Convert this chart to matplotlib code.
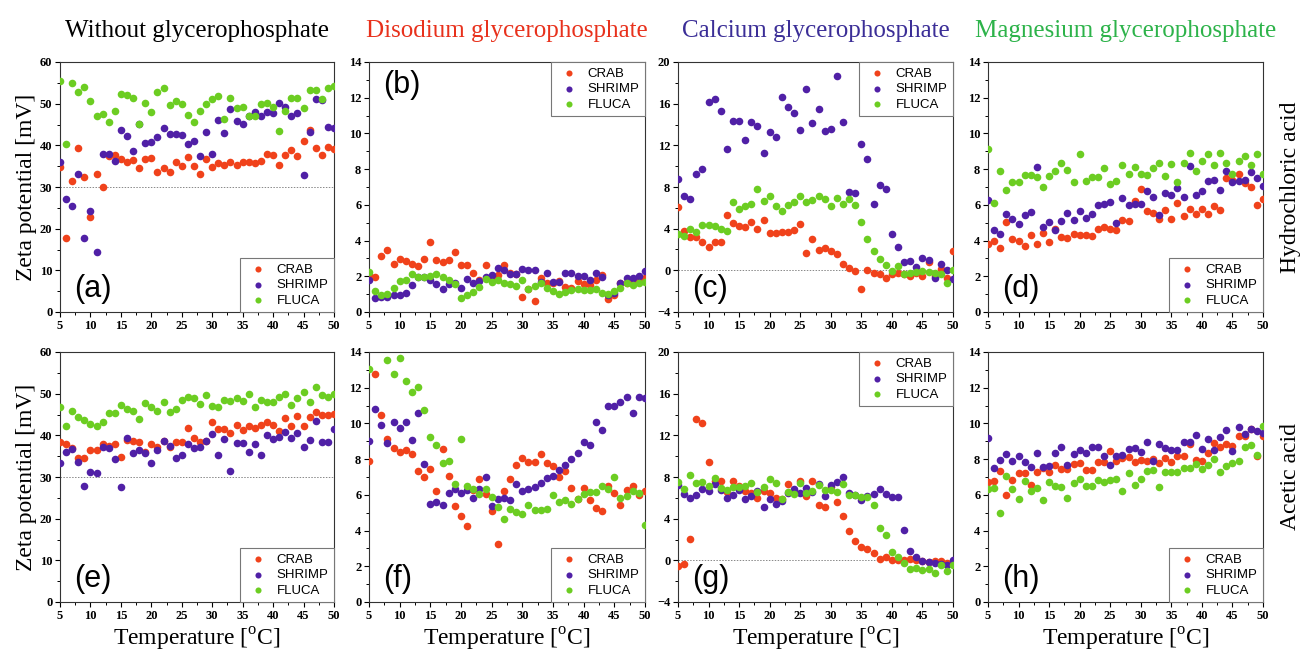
import numpy as np
import matplotlib
matplotlib.use("Agg")
import matplotlib.pyplot as plt
from matplotlib.ticker import MultipleLocator

plt.rcParams["mathtext.fontset"] = "custom"
plt.rcParams["mathtext.rm"] = "Liberation Serif"

nan = np.nan
temperature = np.arange(5, 51)

# (a) HCl, without glycerophosphate
a_crab = [34.8, 17.8, 31.4, 39.4, 32.3, 22.8, 33.2, 30.1, 37.5, 37.8, 36.7, 36.0, 36.5, 34.5, 36.7, 37.0,
          33.5, 34.6, 33.5, 36.1, 35.0, 37.1, 35.0, 33.1, 36.8, 34.8, 35.7, 35.4, 35.9, 35.4, 36.0, 36.0,
          35.7, 36.3, 38.0, 37.6, 35.4, 37.8, 39.0, 37.4, 41.1, 43.6, 39.3, 37.8, 39.5, 39.2]
a_shrimp = [35.9, 27.2, 25.4, 33.2, 17.8, 24.2, 14.5, 38.0, 37.9, 36.2, 43.8, 42.3, 38.7, 45.1, 40.6, 40.9,
            42.1, 44.1, 42.8, 42.8, 42.5, 40.3, 41.0, 37.4, 43.1, 38.0, 46.1, 43.0, 48.6, 45.8, 45.1, 47.1,
            48.1, 47.0, 48.0, 47.8, 50.2, 49.2, 47.1, 47.8, 33.0, 43.2, 51.2, 50.8, 44.4, 44.2]
a_fluca = [55.4, 40.4, 55.0, 52.8, 54.1, 50.7, 47.1, 47.6, 45.6, 48.3, 52.2, 52.0, 51.4, 45.1, 50.1, 48.1,
           52.7, 53.8, 49.8, 50.7, 50.0, 47.4, 45.7, 48.2, 49.9, 51.0, 51.8, 46.4, 51.3, 49.0, 49.2, 47.0,
           47.1, 50.0, 50.1, 49.2, 43.4, 48.2, 51.3, 51.3, 49.0, 53.4, 53.2, 51.2, 53.8, 54.2]

# (b) HCl, disodium glycerophosphate
b_crab = [2.1, 1.96, 3.15, 3.47, 2.67, 2.97, 2.86, 2.67, 2.56, 2.97, 3.94, 2.91, 2.80, 2.91, 3.36, 2.63,
          2.65, 2.20, 1.79, 2.61, 1.90, 2.05, 2.61, 2.18, 2.13, 0.86, 1.30, 0.60, 1.90, 1.62, 1.60, 1.72,
          1.38, 1.34, 1.72, 1.57, 1.53, 1.79, 2.07, 0.73, 0.93, 1.60, 1.60, 1.70, 1.90, 1.90]
b_shrimp = [1.79, 0.77, 0.82, 0.82, 0.97, 0.93, 1.05, 1.53, 1.95, 1.95, 1.77, 1.55, 1.27, 1.59, 1.62, 1.34,
            1.83, 1.60, 1.75, 1.94, 2.05, 2.46, 2.35, 2.15, 2.15, 2.41, 2.33, 2.35, 1.70, 2.20, 1.70, 1.70,
            2.20, 2.20, 2.00, 2.00, 1.80, 2.20, 1.95, 0.96, 1.05, 1.62, 1.88, 1.90, 2.00, 2.30]
b_fluca = [2.24, 1.16, 0.93, 1.00, 1.33, 1.72, 1.79, 2.13, 1.96, 1.96, 2.02, 2.15, 1.94, 1.81, 1.57, 0.77,
           0.97, 1.10, 1.40, 1.87, 1.68, 1.77, 1.62, 1.59, 1.47, 1.81, 1.29, 1.46, 1.64, 1.34, 1.20, 1.03,
           1.12, 1.23, 1.29, 1.25, 1.21, 1.30, 1.08, 1.00, 1.20, 1.33, 1.65, 1.50, 1.60, 1.70]

# (c) HCl, calcium glycerophosphate
c_crab = [6.08, 3.81, 3.17, 3.17, 2.72, 2.27, 2.75, 2.72, 5.31, 4.54, 4.29, 4.19, 4.61, 3.94, 4.83, 3.58,
          3.62, 3.68, 3.71, 3.90, 4.45, 1.66, 3.04, 1.98, 2.14, 1.86, 1.57, 0.61, 0.19, -0.10, -1.76, 0.0,
          -0.22, -0.35, -0.70, -0.32, -0.26, -0.32, -0.51, -0.29, -0.54, 0.77, -0.51, 0.10, -0.77, 1.82]
c_shrimp = [8.80, 7.14, 6.82, 9.25, 9.70, 16.16, 16.48, 15.26, 11.65, 14.37, 14.37, 12.54, 14.27, 13.89,
            11.26, 13.28, 12.77, 16.67, 15.68, 15.07, 13.47, 17.38, 14.18, 15.46, 13.34, 13.54, 18.69, 14.24,
            7.55, 7.39, 12.16, 10.69, 6.40, 8.22, 7.78, 3.49, 2.21, 0.80, 0.90, 0.35, 1.15, 0.99, -0.70,
            0.58, 0.0, -0.83]
c_fluca = [3.52, 3.26, 4.00, 3.71, 4.35, 4.35, 4.22, 3.94, 3.81, 6.59, 5.86, 6.18, 6.37, 7.78, 6.69, 7.14,
           6.18, 5.66, 6.27, 6.56, 7.10, 6.53, 6.72, 7.10, 6.85, 6.21, 6.94, 6.40, 6.85, 6.30, 4.64, 3.01,
           1.89, 1.12, 0.51, -0.10, 0.45, -0.32, -0.22, -0.13, -0.10, -0.19, -0.26, -0.32, -1.25, 0.0]

# (d) HCl, magnesium glycerophosphate
d_crab = [3.81, 3.99, 3.58, 5.04, 4.11, 3.99, 3.70, 4.33, 3.81, 4.42, 3.92, 4.65, 4.20, 4.16, 4.37, 4.29,
          4.33, 4.24, 4.63, 4.74, 4.65, 4.57, 5.13, 5.08, 6.20, 6.89, 5.66, 5.53, 5.23, 5.73, 5.23, 6.10,
          5.36, 5.77, 5.49, 5.79, 5.47, 5.94, 5.71, 7.50, 7.40, 7.75, 7.24, 7.00, 6.01, 6.35]
d_shrimp = [6.29, 4.61, 4.39, 5.49, 5.23, 4.93, 5.41, 5.60, 8.12, 4.74, 5.02, 4.61, 5.08, 5.53, 5.17, 5.67,
            5.28, 5.49, 5.97, 6.05, 6.16, 4.98, 6.38, 5.97, 6.03, 6.07, 6.76, 6.42, 5.45, 6.65, 6.53, 6.96,
            6.42, 8.19, 6.53, 6.76, 7.32, 7.39, 6.83, 7.88, 7.30, 7.32, 7.37, 7.84, 7.52, 7.04]
d_fluca = [9.15, 6.10, 7.90, 6.85, 7.30, 7.26, 7.69, 7.65, 7.56, 7.02, 7.62, 7.90, 8.34, 7.95, 7.26, 8.85,
           7.36, 7.58, 7.58, 8.06, 7.19, 7.36, 8.25, 7.73, 8.12, 7.75, 7.65, 8.05, 8.33, 7.62, 8.27, 7.28,
           8.36, 8.89, 7.90, 8.44, 8.85, 8.23, 8.92, 8.33, 7.71, 8.44, 8.74, 8.21, 8.85, 7.73]

# (e) acetic acid, without glycerophosphate
e_crab = [38.5, 37.9, 37.0, 34.6, 34.6, 36.6, 36.6, 38.0, 37.4, 38.0, 34.9, 39.0, 38.6, 38.3, 35.9, 38.0,
          37.2, 38.6, 37.2, 38.3, 38.3, 41.7, 39.3, 38.5, 38.7, 43.1, 41.6, 41.6, 40.5, 42.4, 41.2, 42.3,
          41.7, 42.4, 43.3, 42.5, 41.1, 44.1, 42.3, 44.7, 42.3, 44.3, 45.6, 44.8, 45.0, 45.1]
e_shrimp = [33.4, 36.0, 36.7, 33.7, 27.9, 31.3, 30.9, 37.1, 36.9, 34.3, 27.7, 39.4, 35.7, 36.6, 35.8, 33.3,
            36.4, 38.6, 37.5, 34.6, 35.2, 38.0, 37.0, 37.1, 38.7, 40.3, 35.4, 39.1, 31.4, 38.1, 38.2, 35.9,
            37.9, 35.4, 40.2, 39.1, 39.6, 40.7, 39.3, 40.6, 37.1, 38.8, 43.5, 38.5, 38.3, 41.5]
e_fluca = [46.8, 42.3, 45.9, 44.3, 43.7, 42.7, 42.3, 43.1, 45.3, 45.3, 47.3, 46.4, 45.9, 44.0, 47.7, 46.8,
           45.9, 48.0, 45.5, 46.3, 48.4, 49.1, 48.9, 47.6, 49.7, 47.0, 46.9, 48.6, 48.2, 48.9, 48.2, 49.9,
           46.8, 48.5, 48.0, 48.0, 49.2, 50.0, 47.2, 48.9, 50.5, 48.0, 51.6, 49.7, 49.1, 49.9]

# (f) acetic acid, disodium glycerophosphate
f_crab = [7.91, 12.79, 10.47, 9.13, 8.62, 8.38, 8.51, 8.31, 7.35, 6.98, 7.45, 6.22, 8.57, 7.04, 5.38, 4.83,
          4.27, 6.30, 6.89, 6.05, 5.10, 3.27, 6.23, 6.87, 7.67, 8.05, 7.84, 7.86, 8.29, 7.78, 7.62, 7.02,
          7.35, 6.37, 5.79, 6.40, 5.69, 5.26, 5.08, 6.48, 6.12, 5.45, 6.25, 6.50, 6.00, 6.20]
f_shrimp = [9.00, 10.79, 9.93, 8.90, 10.10, 9.73, 10.08, 9.09, 10.58, 7.73, 5.51, 5.60, 5.43, 6.12, 6.35,
            6.09, 6.29, 5.82, 6.33, 6.98, 5.36, 5.79, 5.84, 5.69, 6.59, 6.23, 6.35, 6.44, 6.66, 6.94, 7.04,
            7.39, 7.67, 7.99, 8.34, 8.96, 8.79, 10.10, 9.61, 10.98, 10.98, 11.18, 11.48, 10.60, 11.50, 11.40]
f_fluca = [13.07, nan, nan, 13.57, 12.77, 13.66, 12.38, 11.78, 12.06, 10.77, 9.26, 8.81, 7.77, 7.90, 6.63,
           9.13, 6.51, 6.33, 6.05, 6.31, 5.88, 5.30, 4.63, 5.21, 5.02, 4.95, 5.41, 5.13, 5.13, 5.23, 5.97,
           5.58, 5.71, 5.49, 5.75, 6.05, 6.14, 6.18, 6.51, 6.35, 7.02, 5.81, 5.95, 6.20, 6.10, 4.30]

# (g) acetic acid, calcium glycerophosphate
g_crab = [-0.54, -0.32, 2.05, 13.60, 13.18, 9.41, 7.60, 7.65, 6.60, 7.65, 7.17, 6.62, 6.50, 5.95, 6.66,
          6.43, 5.98, 5.86, 7.33, 6.70, 7.58, 6.18, 7.65, 5.28, 5.09, 7.01, 5.63, 4.26, 2.82, 1.82, 1.25,
          1.09, 0.74, 0.10, 0.29, 0.06, 0.0, 0.03, 0.13, 0.03, -0.10, -0.16, -0.03, -0.03, -0.26, -0.26]
g_shrimp = [7.20, 6.34, 5.98, 6.24, 6.82, 6.62, 7.33, 6.72, 5.98, 6.24, 6.72, 5.92, 6.14, 6.66, 5.12, 5.86,
            5.41, 5.66, 6.46, 6.88, 6.46, 6.94, 6.60, 7.33, 6.21, 7.26, 7.49, 7.97, 6.50, 6.24, 5.79, 6.14,
            6.37, 6.88, 6.40, 6.05, 6.05, 2.88, 0.90, 0.29, -0.10, -0.16, -0.26, -0.38, -0.48, 0.03]
g_fluca = [7.55, 6.88, 8.22, 7.46, 7.55, 7.17, 7.90, 6.98, 6.72, 7.04, 7.04, 7.14, 7.42, 6.53, 7.01, 7.78,
           7.46, 5.86, 6.59, 6.40, 7.39, 6.50, 6.62, 7.26, 6.72, 6.72, 6.59, 7.33, 6.30, 6.27, 6.05, 6.11,
           5.28, 3.10, 2.40, 0.80, 0.29, -0.26, -0.80, -0.70, -0.93, -0.80, -1.25, -0.42, -0.99, -0.42]

# (h) acetic acid, magnesium glycerophosphate
h_crab = [6.70, 6.79, 7.34, 6.01, 6.85, 7.24, 7.21, 6.55, 7.30, 7.50, 7.30, 7.67, 7.47, 7.45, 7.73, 7.80,
          7.37, 7.41, 7.86, 7.84, 8.44, 7.88, 8.06, 8.14, 7.84, 7.97, 7.90, 8.03, 7.78, 8.06, 7.82, 8.16,
          8.19, 8.85, 7.97, 7.90, 8.34, 8.92, 8.66, 8.87, 8.75, 9.28, 9.30, 9.71, 8.19, 9.28]
h_shrimp = [9.20, 7.49, 7.97, 8.27, 7.88, 8.18, 7.82, 7.56, 8.33, 7.56, 7.60, 8.33, 8.66, 7.67, 8.29, 8.49,
            8.34, 8.70, 8.66, 8.18, 7.65, 8.18, 8.25, 8.59, 8.62, 8.40, 8.94, 7.90, 8.87, 8.62, 8.51, 8.49,
            8.94, 8.98, 9.35, 8.59, 9.11, 8.53, 9.26, 9.63, 8.47, 9.80, 9.41, 9.67, 9.56, 9.46]
h_fluca = [6.33, 6.37, 4.97, 7.07, 6.35, 5.79, 6.76, 6.22, 6.40, 5.73, 6.70, 6.50, 6.42, 5.81, 6.65, 6.91,
           6.48, 6.50, 6.81, 6.74, 6.83, 6.89, 6.22, 7.22, 6.57, 6.87, 7.32, 7.39, 6.46, 7.30, 7.28, 7.28,
           7.50, 7.52, 7.75, 7.47, 7.65, 7.99, 7.28, 7.63, 7.78, 7.90, 8.70, 8.80, 8.25, 9.84]

column_titles = ["Without glycerophosphate", "Disodium glycerophosphate",
                 "Calcium glycerophosphate", "Magnesium glycerophosphate"]
title_colors = ["black", "#E8311C", "#3B2E97", "#2DB34A"]
row_labels = ["Hydrochloric acid", "Acetic acid"]
series_names = ["CRAB", "SHRIMP", "FLUCA"]
series_colors = ["#F0421B", "#5020A6", "#6CCD22"]

panels = [
    # letter, data, ylim, ystep, ref line, legend loc, letter loc
    ("a", (a_crab, a_shrimp, a_fluca), (0, 60), 10, 30, "lower right", "bottom"),
    ("b", (b_crab, b_shrimp, b_fluca), (0, 14), 2, None, "upper right", "top"),
    ("c", (c_crab, c_shrimp, c_fluca), (-4, 20), 4, 0, "upper right", "bottom"),
    ("d", (d_crab, d_shrimp, d_fluca), (0, 14), 2, None, "lower right", "bottom"),
    ("e", (e_crab, e_shrimp, e_fluca), (0, 60), 10, 30, "lower right", "bottom"),
    ("f", (f_crab, f_shrimp, f_fluca), (0, 14), 2, None, "lower right", "bottom"),
    ("g", (g_crab, g_shrimp, g_fluca), (-4, 20), 4, 0, "upper right", "bottom"),
    ("h", (h_crab, h_shrimp, h_fluca), (0, 14), 2, None, "lower right", "bottom"),
]

W, H = 1308, 655
fig = plt.figure(figsize=(W / 100, H / 100), dpi=100)

col_left = [60, 369, 678, 988]
col_right = [334, 645, 953, 1263]
row_top = [62, 352]
row_bottom = [312, 602]

serif = "Liberation Serif"
sans = "Liberation Sans"

for i, (letter, series, ylim, ystep, ref, leg_loc, let_pos) in enumerate(panels):
    r, c = divmod(i, 4)
    ax = fig.add_axes([col_left[c] / W, 1 - row_bottom[r] / H,
                       (col_right[c] - col_left[c]) / W, (row_bottom[r] - row_top[r]) / H])
    if ref is not None:
        ax.axhline(ref, color="#888888", ls=(0, (1.5, 1.5)), lw=0.7, zorder=1)
    for vals, name, col in zip(series, series_names, series_colors):
        ax.scatter(temperature, vals, s=30, color=col, label=name, zorder=3, linewidths=0)
    ax.set_xlim(5, 50)
    ax.set_ylim(*ylim)
    ax.xaxis.set_major_locator(MultipleLocator(5))
    ax.xaxis.set_minor_locator(MultipleLocator(2.5))
    ax.yaxis.set_major_locator(MultipleLocator(ystep))
    ax.yaxis.set_minor_locator(MultipleLocator(ystep / 2))
    ax.tick_params(which="major", direction="out", length=3.5, width=0.8, labelsize=9, pad=2)
    ax.tick_params(which="minor", direction="out", length=2, width=0.7)
    for lab in ax.get_xticklabels() + ax.get_yticklabels():
        lab.set_fontfamily(serif)
        lab.set_fontweight("bold")
    for sp in ax.spines.values():
        sp.set_color("#333333")
        sp.set_linewidth(0.8)

    leg = ax.legend(loc=leg_loc, prop={"family": sans, "size": 9.5}, fancybox=False,
                    framealpha=1, edgecolor="#777777", handletextpad=0.4,
                    borderpad=0.4, labelspacing=0.25, markerscale=0.8, borderaxespad=0.0)
    leg.get_frame().set_linewidth(0.8)

    ypos = 0.03 if let_pos == "bottom" else 0.97
    va = "bottom" if let_pos == "bottom" else "top"
    ax.text(0.05, ypos, f"({letter})", transform=ax.transAxes, fontsize=22,
            family=sans, va=va, ha="left")

    if r == 0:
        ax.set_title(column_titles[c], fontsize=18, family=serif, color=title_colors[c], pad=18)
    if r == 1:
        ax.set_xlabel(r"Temperature [$^\mathrm{o}$C]", fontsize=17, family=serif, labelpad=3)
    if c == 0:
        ax.set_ylabel("Zeta potential [mV]", fontsize=17, family=serif, labelpad=2)
    if c == 3:
        ax.text(1.1, 0.5, row_labels[r], transform=ax.transAxes, rotation=90,
                fontsize=17, family=serif, va="center", ha="center")

fig.savefig("out.png", dpi=100)
